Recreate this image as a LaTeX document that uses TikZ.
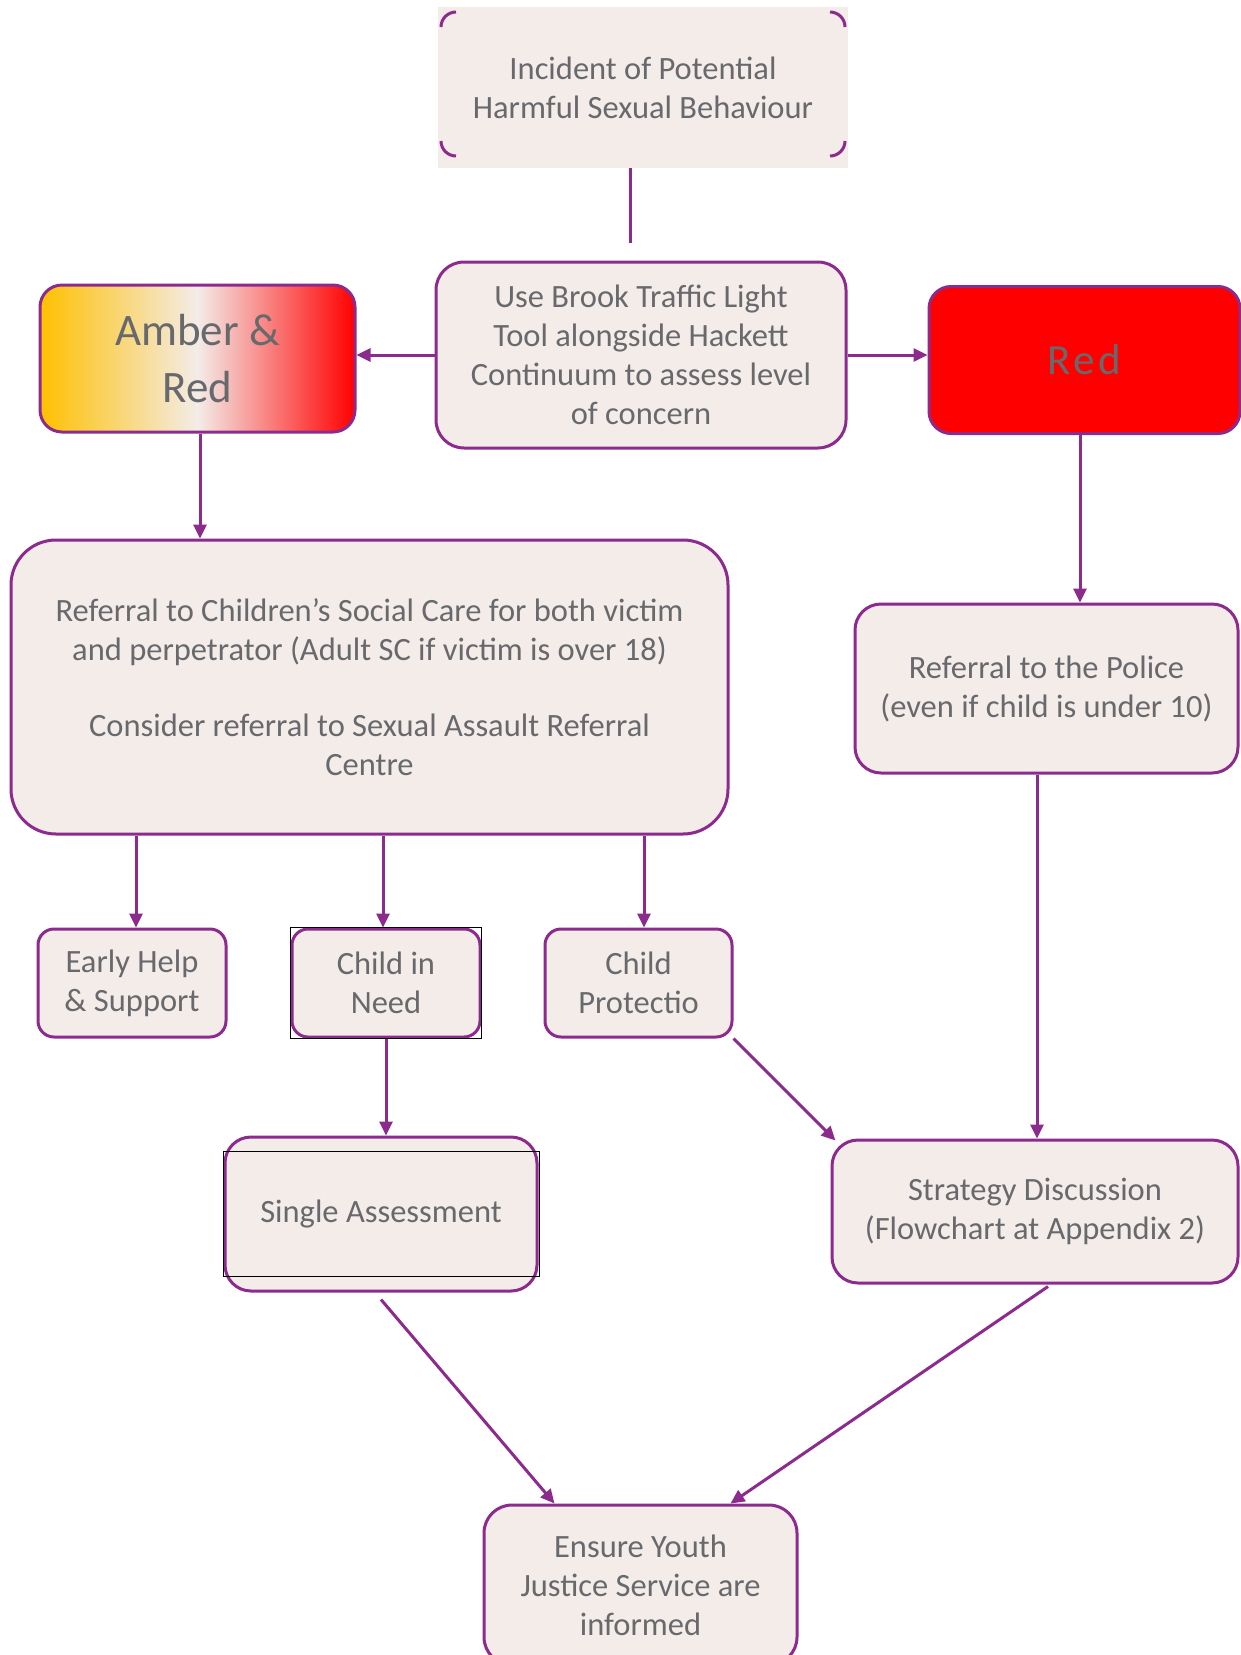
\documentclass[tikz,border=0pt]{standalone}
\usepackage{fontspec}
\setmainfont{Carlito}
\usetikzlibrary{arrows.meta}
\definecolor{hsbpurple}{RGB}{140,42,142}
\definecolor{hsbfill}{RGB}{243,236,232}
\definecolor{hsbtext}{RGB}{104,105,109}
\definecolor{amber}{RGB}{255,192,0}
\tikzset{
  box/.style={draw=hsbpurple, line width=3, fill=hsbfill, rounded corners=22,
    text=hsbtext, align=center, inner sep=0, font=\fontsize{32.5}{39}\selectfont},
  link/.style={draw=hsbpurple, line width=3, -{Triangle[length=14,width=13]}},
}
\begin{document}
\begin{tikzpicture}[x=1pt,y=-1pt]
\useasboundingbox (0,0) rectangle (1241,1655);

% first box, only its corners show
\node[fill=hsbfill, minimum width=410, minimum height=161, inner sep=0, text=hsbtext,
      align=center, font=\fontsize{32.5}{39}\selectfont] (incident) at (643,87.5)
      {Incident of Potential\\Harmful Sexual Behaviour};
\draw[hsbpurple, line width=3, rounded corners=15] (441,27) -- (441,12) -- (456,12);
\draw[hsbpurple, line width=3, rounded corners=15] (830,12) -- (845,12) -- (845,27);
\draw[hsbpurple, line width=3, rounded corners=15] (441,141) -- (441,156) -- (456,156);
\draw[hsbpurple, line width=3, rounded corners=15] (830,156) -- (845,156) -- (845,141);
\coordinate (stem) at (630,243);
\draw[hsbpurple, line width=3] (stem |- incident.south) -- (stem);

\node[box, rounded corners=28, minimum width=410, minimum height=186] (brook) at (641,355)
      {Use Brook Traffic Light\\Tool alongside Hackett\\Continuum to assess level\\of concern};
\node[box, left color=amber, right color=red, middle color=hsbfill,
      minimum width=315, minimum height=147, font=\fontsize{45}{57}\selectfont] (amber) at (197.5,358.5)
      {Amber \&\\Red};
\node[box, fill=red, minimum width=311, minimum height=147,
      font=\fontsize{43}{50}\selectfont\addfontfeature{LetterSpace=8}] (red) at (1084.5,360) {Red};

\node[box, rounded corners=45, minimum width=717, minimum height=294] (referral) at (369.5,687)
      {Referral to Children’s Social Care for both victim\\
       and perpetrator (Adult SC if victim is over 18)\\[37pt]
       Consider referral to Sexual Assault Referral\\Centre};
\node[box, rounded corners=26, minimum width=383, minimum height=169] (police) at (1046.5,688.5)
      {Referral to the Police\\(even if child is under 10)};

\node[box, rounded corners=16, minimum width=188, minimum height=108] (early) at (132,983)
      {Early Help\\\& Support};
\node[box, rounded corners=16, minimum width=188, minimum height=108] (cin) at (386,983)
      {Child in\\Need};
\draw[black, line width=1.5] (cin.north west) rectangle (cin.south east);
\node[box, rounded corners=16, minimum width=187, minimum height=108] (cp) at (638.5,983)
      {Child\\Protectio};

\node[box, rounded corners=26, minimum width=312, minimum height=154] (single) at (381,1214)
      {Single Assessment};
\draw[black, line width=1.5] ([yshift=-16]single.north west) rectangle ([xshift=1,yshift=16]single.south east);
\node[box, rounded corners=26, minimum width=406, minimum height=143] (strategy) at (1035,1211.5)
      {Strategy Discussion\\(Flowchart at Appendix 2)};

\node[box, rounded corners=28, minimum width=313, minimum height=160] (ensure) at (640.5,1585)
      {Ensure Youth\\Justice Service are\\informed};

% connectors
\draw[link] (brook.west) -- (brook.west -| amber.east);
\draw[link] (brook.east) -- (brook.east -| red.west);
\draw[link] ([xshift=2.5]amber.south) -- ([xshift=2.5]amber.south |- referral.north);
\draw[link] ([xshift=-4.5]red.south) -- ([xshift=-4.5]red.south |- police.north);
\draw[link] ([xshift=4]early.north |- referral.south) -- ([xshift=4]early.north);
\draw[link] ([xshift=-3]cin.north |- referral.south) -- ([xshift=-3]cin.north);
\draw[link] ([xshift=5.5]cp.north |- referral.south) -- ([xshift=5.5]cp.north);
\draw[link] (cin.south) -- (cin.south |- single.north);
\draw[link] (cp.south east) -- ([xshift=5,yshift=-2]strategy.north west);
\draw[link] ([xshift=-9.5]police.south) -- ([xshift=-9.5]police.south |- strategy.north);
\draw[link] ([yshift=-7]single.south) -- ([xshift=-86]ensure.north);
\draw[link] ([xshift=13,yshift=-2]strategy.south) -- ([xshift=90]ensure.north);
\end{tikzpicture}
\end{document}
